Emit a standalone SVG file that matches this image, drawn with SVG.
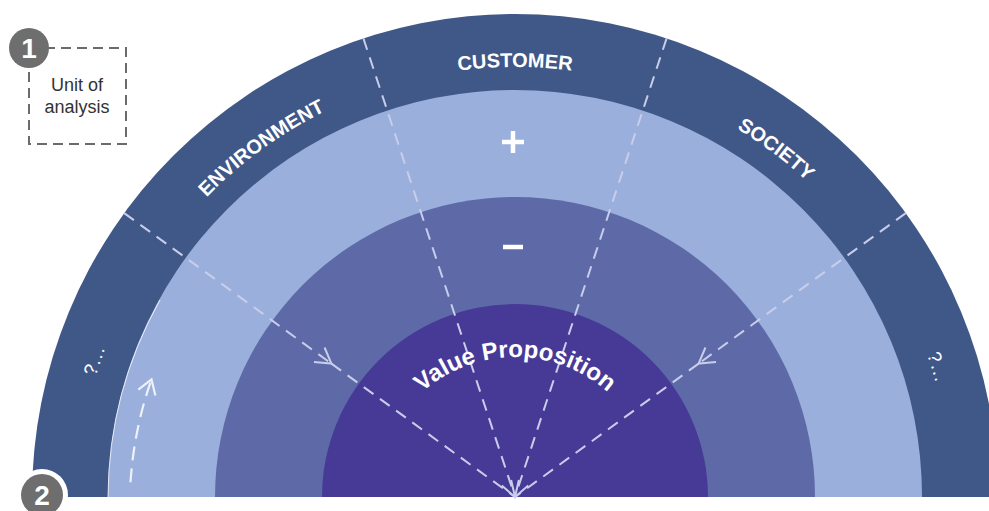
<svg xmlns="http://www.w3.org/2000/svg" width="989" height="511" viewBox="0 0 989 511">
  <style>
    .band-label { font-family: "Liberation Sans", Arial, sans-serif; font-weight: bold; font-size: 20px; fill: #ffffff; }
    .q-label { font-family: "Liberation Sans", Arial, sans-serif; font-size: 19px; letter-spacing: 1px; fill: #ffffff; }
    .vp-label { font-family: "Liberation Sans", Arial, sans-serif; font-weight: bold; font-size: 24px; fill: #ffffff; }
    .note { font-family: "Liberation Sans", Arial, sans-serif; font-size: 18px; fill: #333333; }
    .badge-num { font-family: "Liberation Sans", Arial, sans-serif; font-weight: bold; font-size: 28px; fill: #ffffff; }
    .dash { fill: none; stroke: #c8cdeb; stroke-width: 2; stroke-dasharray: 12 8; }
    .dash-light { fill: none; stroke: #eef1fa; stroke-width: 2.2; stroke-dasharray: 14 8; }
    .sign { stroke: #ffffff; stroke-width: 4.5; fill: none; }
  </style>
  <defs>
    <marker id="chev" markerUnits="userSpaceOnUse" markerWidth="26" markerHeight="26" viewBox="-18 -13 22 26" refX="0" refY="0" orient="auto">
      <path d="M -15 -9 L 0 0 L -15 9" fill="none" stroke="#c8cdeb" stroke-width="2"/>
    </marker>
    <marker id="chev-light" markerUnits="userSpaceOnUse" markerWidth="26" markerHeight="26" viewBox="-18 -13 22 26" refX="0" refY="0" orient="auto">
      <path d="M -14 -9 L 0 0 L -14 9" fill="none" stroke="#eef1fa" stroke-width="2.2"/>
    </marker>
    <path id="arcBand" d="M 85 497 A 430 430 0 0 1 945 497"/>
    <path id="arcQ" d="M 79 497 A 436 436 0 0 1 951 497"/>
    <path id="arcVP" d="M 375 497 A 140 140 0 0 1 655 497"/>
  </defs>

  <rect width="989" height="511" fill="#ffffff"/>

  <g id="ring-outer">
    <path d="M 32 497 A 483 483 0 0 1 998 497 Z" fill="#3f5887"/>
  </g>
  <g id="ring-gains">
    <path d="M 108 497 A 407 407 0 0 1 922 497 Z" fill="#9aafdb"/>
    <path d="M 108 497 A 407 407 0 0 1 160 300" fill="none" stroke="#ffffff" stroke-width="1" stroke-opacity="0.8"/>
  </g>
  <g id="ring-pains">
    <path d="M 215 497 A 300 300 0 0 1 815 497 Z" fill="#5e6aa8"/>
  </g>
  <g id="value-proposition">
    <path d="M 322 497 A 193 193 0 0 1 708 497 Z" fill="#473a96"/>
  </g>

  <g id="connectors">
    <path class="dash" d="M 124.2 213.1 L 331.4 363.6" marker-end="url(#chev)"/>
    <path class="dash" d="M 331.4 363.6 L 515 497"/>
    <path class="dash" d="M 905.8 213.1 L 698.6 363.6" marker-end="url(#chev)"/>
    <path class="dash" d="M 698.6 363.6 L 515 497"/>
    <path class="dash" d="M 363.4 38.4 L 515 497" marker-end="url(#chev)"/>
    <path class="dash" d="M 666.6 38.4 L 515 497" marker-end="url(#chev)"/>
    <path class="dash-light" d="M 130.5 482.3 A 385 385 0 0 1 151.5 379.3" marker-end="url(#chev-light)"/>
  </g>

  <g id="label-environment">
    <text class="band-label"><textPath href="#arcBand" startOffset="30%" text-anchor="middle">ENVIRONMENT</textPath></text>
  </g>
  <g id="label-customer">
    <text class="band-label"><textPath href="#arcBand" startOffset="50%" text-anchor="middle">CUSTOMER</textPath></text>
  </g>
  <g id="label-society">
    <text class="band-label"><textPath href="#arcBand" startOffset="70.5%" text-anchor="middle">SOCIETY</textPath></text>
  </g>
  <g id="label-other-left">
    <text class="q-label"><textPath href="#arcQ" startOffset="10%" text-anchor="middle">?...</textPath></text>
  </g>
  <g id="label-other-right">
    <text class="q-label"><textPath href="#arcQ" startOffset="90.5%" text-anchor="middle">?...</textPath></text>
  </g>

  <g id="gains-sign">
    <path class="sign" d="M 502 142 H 524 M 513 131 V 153"/>
  </g>
  <g id="pains-sign">
    <path class="sign" d="M 503 247 H 523" stroke-width="5"/>
  </g>

  <g id="label-value-proposition">
    <text class="vp-label"><textPath href="#arcVP" startOffset="50%" text-anchor="middle">Value Proposition</textPath></text>
  </g>

  <g id="unit-of-analysis">
    <rect x="29" y="48" width="97" height="96" fill="none" stroke="#6b6b6b" stroke-width="2" stroke-dasharray="10 6"/>
    <text class="note" x="77" y="91" text-anchor="middle">Unit of</text>
    <text class="note" x="77" y="113" text-anchor="middle">analysis</text>
  </g>
  <g id="badge-1">
    <circle cx="29" cy="48" r="20" fill="#6e6e6e"/>
    <text class="badge-num" x="29" y="58" text-anchor="middle">1</text>
  </g>
  <g id="badge-2">
    <circle cx="42" cy="495" r="26" fill="#ffffff"/>
    <circle cx="42" cy="495" r="21" fill="#6e6e6e"/>
    <text class="badge-num" x="42" y="505" text-anchor="middle">2</text>
  </g>
</svg>
